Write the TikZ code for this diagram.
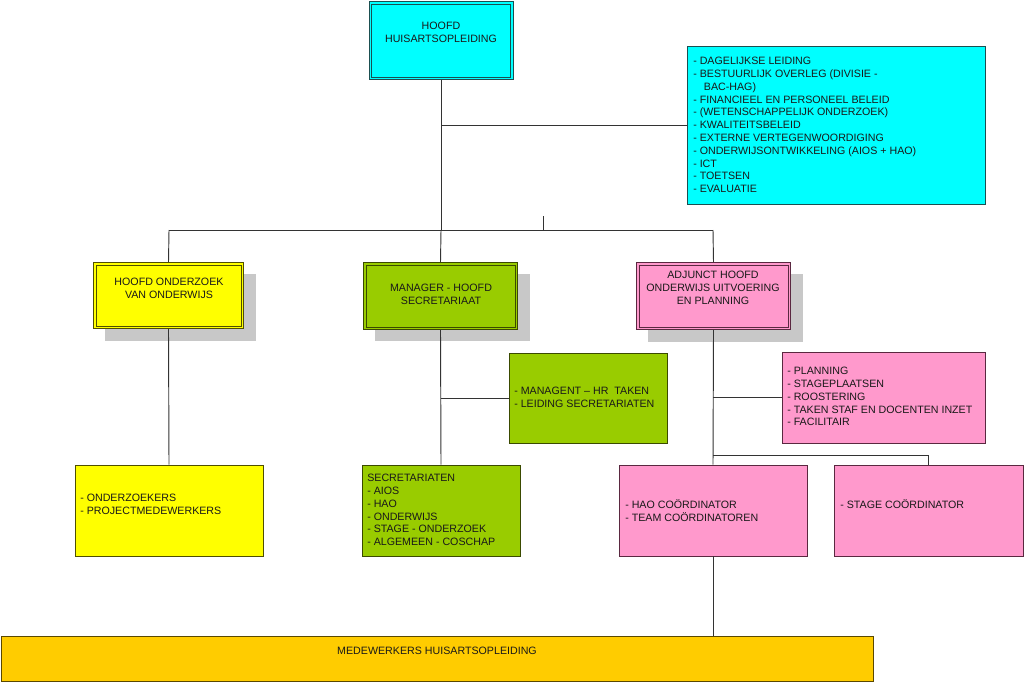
\documentclass[tikz,border=0pt]{standalone}
\usepackage{fontspec}
\setmainfont{Liberation Sans}
\usetikzlibrary{fit}
\definecolor{cyanf}{HTML}{00FFFF}
\definecolor{cyanb}{HTML}{1B4F50}
\definecolor{yelf}{HTML}{FFFF00}
\definecolor{yelb}{HTML}{4F4F00}
\definecolor{grnf}{HTML}{99CC00}
\definecolor{grnb}{HTML}{3A4A00}
\definecolor{pnkf}{HTML}{FF99CC}
\definecolor{pnkb}{HTML}{5A2840}
\definecolor{gldf}{HTML}{FFCC00}
\definecolor{gldb}{HTML}{5A4800}
\definecolor{shad}{HTML}{C8C8C8}
\definecolor{conn}{HTML}{333333}
\tikzset{
  boxbase/.style={rectangle, inner sep=0pt, line width=0.7pt},
  listbox/.style={boxbase, draw=#1b, fill=#1f},
  headbox/.style={boxbase, draw=#1b, fill=#1f, line width=0.6pt},
  innerline/.style={draw=#1b, line width=0.6pt},
  shadowbox/.style={fill=shad, draw=none},
  txt/.style={inner sep=0pt, font=\fontsize{8pt}{9.6pt}\selectfont, text=black!90},
  ltxt/.style={txt, align=left, anchor=north west},
  ctxt/.style={txt, align=center, anchor=north},
  link/.style={draw=conn, line width=0.7pt}
}
\newcommand{\innerframe}[2]{\draw[innerline=#2] ([xshift=2.2pt,yshift=-2.2pt]#1.north west) rectangle ([xshift=-2.2pt,yshift=2.2pt]#1.south east);}
\begin{document}
\begin{tikzpicture}[x=0.75pt,y=-0.75pt]
\useasboundingbox (0,0) rectangle (1024,682);
\fill[white] (0,0) rectangle (1024,682);

% shadows
\fill[shadowbox] (105,274) rectangle (256,341);
\fill[shadowbox] (375,274) rectangle (530,341);
\fill[shadowbox] (648,274) rectangle (803,342);

% boxes
\node[headbox=cyan, fit={(369,1.5) (513,79.5)}] (top) {};
\node[listbox=cyan, fit={(687,46) (985,204)}] (duties) {};
\node[headbox=yel, fit={(93.5,262.5) (243.5,328.5)}] (ymid) {};
\node[headbox=grn, fit={(363.5,262.5) (517.5,329.5)}] (gmid) {};
\node[headbox=pnk, fit={(636.5,262.5) (790.5,329.5)}] (pmid) {};
\innerframe{top}{cyan}
\innerframe{ymid}{yel}
\innerframe{gmid}{grn}
\innerframe{pmid}{pnk}
\node[listbox=grn, fit={(509,353) (667,443)}] (gright) {};
\node[listbox=pnk, fit={(782,352) (985,443)}] (pright) {};
\node[listbox=yel, fit={(75,465) (263,556)}] (ybot) {};
\node[listbox=grn, fit={(362,465) (520,556)}] (gbot) {};
\node[listbox=pnk, fit={(619,465) (807,556)}] (hao) {};
\node[listbox=pnk, fit={(834,465) (1023,556)}] (stage) {};
\node[listbox=gld, fit={(1,636) (873,681)}] (gold) {};

% connector coordinates
\coordinate (bar) at (441,230);
\coordinate (barL) at (169,230);
\coordinate (barR) at (713,230);
\coordinate (tickT) at (543,216);
\coordinate (tickB) at (543,230);
\coordinate (jDuty) at (441,125);
\coordinate (jG) at (441,398);
\coordinate (jP) at (713,397.5);
\coordinate (jS) at (713,455);

% connectors
\draw[link] (top.south) -- (bar);
\draw[link] (jDuty) -- (duties.west);
\draw[link] (tickT) -- (tickB);
\draw[link] (barL) -- (barR);
\draw[link] (barL) -- (ymid.north);
\draw[link] (bar) -- (gmid.north);
\draw[link] (barR) -- (pmid.north);
\draw[link] (ymid.south) -- (ybot.north);
\draw[link] (gmid.south) -- (gbot.north);
\draw[link] (jG) -- (gright.west);
\draw[link] (pmid.south) -- (hao.north);
\draw[link] (jP) -- (pright.west);
\draw[link] (jS) -- (jS -| stage.north) -- (stage.north);
\draw[link] (hao.south) -- (hao.south |- gold.north);

% texts
\node[ctxt] (ttop) at (441,22.2) {HOOFD\\HUISARTSOPLEIDING};
\node[ltxt] (tduties) at (693,57) {- DAGELIJKSE LEIDING\\- BESTUURLIJK OVERLEG (DIVISIE -\\\hspace*{8pt}BAC-HAG)\\- FINANCIEEL EN PERSONEEL BELEID\\- (WETENSCHAPPELIJK ONDERZOEK)\\- KWALITEITSBELEID\\- EXTERNE VERTEGENWOORDIGING\\- ONDERWIJSONTWIKKELING (AIOS + HAO)\\- ICT\\- TOETSEN\\- EVALUATIE};
\node[ctxt] (tymid) at (169,278) {HOOFD ONDERZOEK\\VAN ONDERWIJS};
\node[ctxt] (tgmid) at (441,284) {MANAGER - HOOFD\\SECRETARIAAT};
\node[ctxt] (tpmid) at (713,271) {ADJUNCT HOOFD\\ONDERWIJS UITVOERING\\EN PLANNING};
\node[ltxt] (tgright) at (514,387) {- MANAGENT -- HR\ \ TAKEN\\- LEIDING SECRETARIATEN};
\node[ltxt] (tpright) at (787,367) {- PLANNING\\- STAGEPLAATSEN\\- ROOSTERING\\- TAKEN STAF EN DOCENTEN INZET\\- FACILITAIR};
\node[ltxt] (tybot) at (80,493.5) {- ONDERZOEKERS\\- PROJECTMEDEWERKERS};
\node[ltxt] (tgbot) at (367,474) {SECRETARIATEN\\- AIOS\\- HAO\\- ONDERWIJS\\- STAGE - ONDERZOEK\\- ALGEMEEN - COSCHAP};
\node[ltxt] (thao) at (625,499) {- HAO COÖRDINATOR\\- TEAM COÖRDINATOREN};
\node[ltxt] (tstage) at (840,499) {- STAGE COÖRDINATOR};
\node[ctxt] (tgold) at (437,647) {MEDEWERKERS HUISARTSOPLEIDING};
\end{tikzpicture}
\end{document}
